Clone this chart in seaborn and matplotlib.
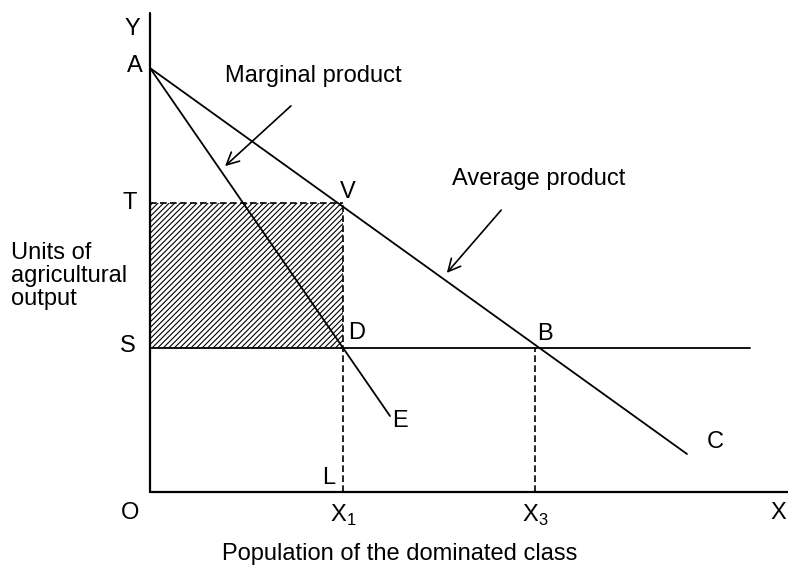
import matplotlib
matplotlib.use("Agg")
import matplotlib.pyplot as plt
import seaborn as sns
import pandas as pd

# diagram points (drawing units, origin at O)
x_L = 193      # X1
x_B = 385      # X3
y_S = 144
y_T = 289
y_A = 424

avg_x = [0, 537]        # A -> C
avg_y = [424, 38]
mp_x = [0, 240]         # A -> E
mp_y = [424, 76]
s_line_x = [0, 600]
axis_x_end = 640
axis_y_end = 479

sns.set_style("white")
plt.rcParams["font.family"] = ["Liberation Sans", "DejaVu Sans"]
plt.rcParams["mathtext.fontset"] = "custom"
plt.rcParams["mathtext.rm"] = "Liberation Sans"
plt.rcParams["hatch.linewidth"] = 0.8
plt.rcParams["text.color"] = "black"

fig = plt.figure(figsize=(7.88, 5.70), dpi=100)
ax = fig.add_axes([0, 0, 1, 1])
ax.set_xlim(-150, 638)
ax.set_ylim(-78, 492)
ax.axis("off")

# axes
ax.plot([0, 0], [0, axis_y_end], color="black", lw=1.6)
ax.plot([0, axis_x_end], [0, 0], color="black", lw=1.6)

# shaded area OSDT rectangle
ax.fill_between([0, x_L], y_S, y_T, facecolor="white", edgecolor="black",
                hatch="//////", linewidth=0)
ax.plot([0, x_L], [y_T, y_T], color="black", lw=1.2, ls=(0, (4, 2)))
ax.plot([x_L, x_L], [0, y_T], color="black", lw=1.2, ls=(0, (4, 2)))
ax.plot([x_B, x_B], [0, y_S], color="black", lw=1.2, ls=(0, (4, 2)))

# curves
curves = pd.DataFrame({"x": avg_x + mp_x + s_line_x,
                       "y": avg_y + mp_y + [y_S, y_S],
                       "curve": ["avg"] * 2 + ["mp"] * 2 + ["s"] * 2})
sns.lineplot(data=curves, x="x", y="y", units="curve", estimator=None,
             sort=False, color="black", lw=1.3, ax=ax)

# arrows
ax.annotate("", xy=(73, 324), xytext=(143, 388),
            arrowprops=dict(arrowstyle="->", color="black", lw=1.2,
                            mutation_scale=22))
ax.annotate("", xy=(295, 217), xytext=(353, 284),
            arrowprops=dict(arrowstyle="->", color="black", lw=1.2,
                            mutation_scale=22))

fs = 17
labels = [("Y", -18, 463), ("A", -15, 426), ("T", -20, 289), ("S", -22, 146),
          ("O", -20, -21), ("V", 198, 300), ("D", 207, 159), ("B", 395, 158),
          ("E", 250, 71), ("C", 565, 50), ("L", 179, 14), ("X", 628, -21)]
for txt, x, y in labels:
    ax.text(x, y, txt, fontsize=fs, ha="center", va="center")
ax.text(x_L, -23, r"$\mathrm{X}_\mathrm{1}$", fontsize=fs, ha="center", va="center")
ax.text(x_B, -23, r"$\mathrm{X}_\mathrm{3}$", fontsize=fs, ha="center", va="center")

ax.text(75, 416, "Marginal product", fontsize=fs, va="center")
ax.text(302, 313, "Average product", fontsize=fs, va="center")
ax.text(-139, 216, "Units of\nagricultural\noutput", fontsize=fs, va="center",
        ha="left", linespacing=1.08)
ax.text(250, -62, "Population of the dominated class", fontsize=fs,
        ha="center", va="center")

fig.savefig("out.png", dpi=100)
